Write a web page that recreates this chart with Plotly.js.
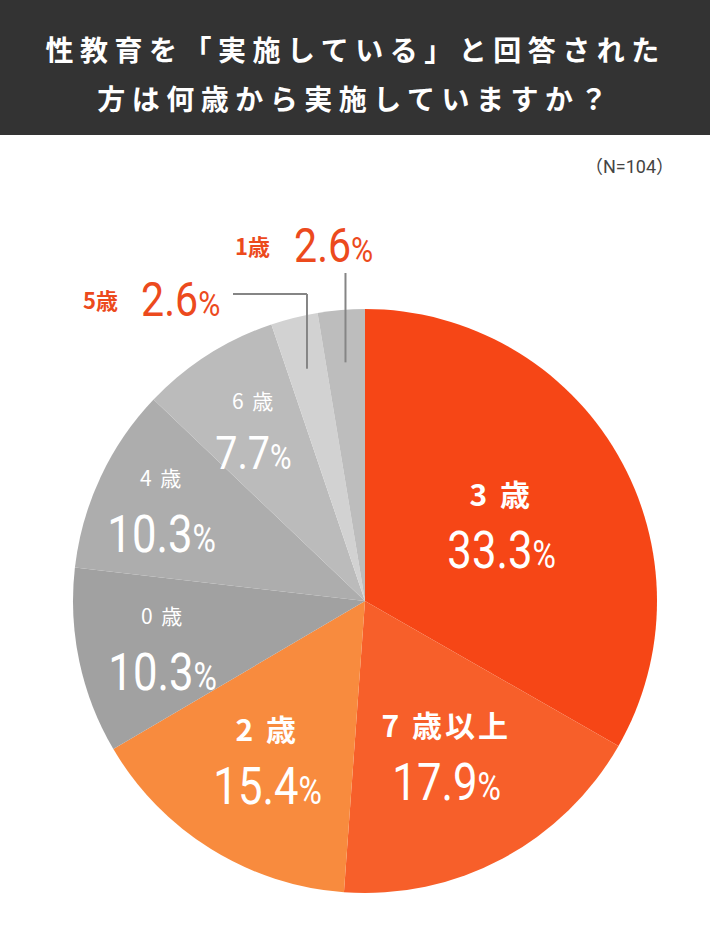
<!DOCTYPE html>
<html>
<head>
<meta charset="utf-8">
<script src="https://cdn.plot.ly/plotly-3.0.1.min.js"></script>
<style>
  html, body { margin: 0; padding: 0; background: #fff; }
  #pie { width: 710px; height: 939px; }
</style>
</head>
<body>
<div id="pie"></div>
<script>
// Chart data
var ages = ['3 歳', '7 歳以上', '2 歳', '0 歳', '4 歳', '6 歳', '5歳', '1歳'];
var shares = [33.3, 17.9, 15.4, 10.3, 10.3, 7.7, 2.6, 2.6];
var sampleNote = '（N=104）';
var titleLines = ['性教育を「実施している」と回答された', '方は何歳から実施していますか？'];

// Styles
var sliceColors = ['#F64616', '#F75F2A', '#F88B3E', '#A1A1A1', '#ADADAD', '#BBBBBB', '#D2D2D2', '#BDBDBD'];
var labelRadius = [0.54, 0.59, 0.63, 0.71, 0.77, 0.71];   // inside labels, fraction of radius
var catSize = [30, 30, 30, 21, 21, 21];
var pctSize = [52, 52, 52, 52, 52, 47];
var calloutPct = 49;
var accent = '#EC4A1D';
var pctFont = 'Roboto, Liberation Sans, sans-serif';
var jpFont = 'Noto Sans CJK JP, sans-serif';
var squeeze = 0.84;   // the original uses a condensed face for the numbers

var W = 710, H = 939;
var cx = 365, cy = 601, R = 292;
function px(x) { return x / W; }
function py(y) { return 1 - y / H; }

// mid angle of each slice, clockwise from 12 o'clock
var total = shares.reduce(function (a, b) { return a + b; }, 0);
var mids = [];
var run = 0;
shares.forEach(function (v) {
  mids.push((run + v / 2) / total * 2 * Math.PI);
  run += v;
});
function polar(i, f) {
  return [cx + f * R * Math.sin(mids[i]), cy - f * R * Math.cos(mids[i])];
}
function pctHtml(v, size) {
  return v.toFixed(1) + '<span style="font-size:' + Math.round(size * 0.74) + 'px">%</span>';
}

var annotations = [];
var shapes = [];
var narrowText = [];   // [annotation index, transform origin]
var spaced = [[0, 6.5], [1, 6.5]];   // [annotation index, letter spacing px]

// header band + title
shapes.push({
  type: 'rect', xref: 'paper', yref: 'paper', x0: 0, x1: 1, y0: py(135), y1: 1,
  fillcolor: '#333333', line: {width: 0}, layer: 'below'
});
titleLines.forEach(function (t, k) {
  annotations.push({
    text: t, xref: 'paper', yref: 'paper', x: px(355), y: py(49 + k * 49),
    xanchor: 'center', yanchor: 'middle', showarrow: false,
    font: {family: jpFont, size: 28, color: '#ffffff', weight: 'bold'}
  });
});
annotations.push({
  text: sampleNote, xref: 'paper', yref: 'paper', x: px(629), y: py(166),
  xanchor: 'center', yanchor: 'middle', showarrow: false,
  font: {family: 'Roboto, Noto Sans CJK JP, sans-serif', size: 18, color: '#444444'}
});

// labels inside the big slices
for (var i = 0; i < 6; i++) {
  var p = polar(i, labelRadius[i]);
  var gap = pctSize[i] > 50 ? 29 : 26;
  spaced.push([annotations.length, catSize[i] > 24 ? 3 : 2]);
  annotations.push({
    text: ages[i], xref: 'paper', yref: 'paper', x: px(p[0]), y: py(p[1] - gap),
    xanchor: 'center', yanchor: 'middle', showarrow: false,
    font: {family: jpFont, size: catSize[i], color: '#ffffff', weight: catSize[i] > 24 ? 'bold' : 'normal'}
  });
  narrowText.push([annotations.length, 'center']);
  annotations.push({
    text: pctHtml(shares[i], pctSize[i]), xref: 'paper', yref: 'paper', x: px(p[0]), y: py(p[1] + gap),
    xanchor: 'center', yanchor: 'middle', showarrow: false,
    font: {family: pctFont, size: pctSize[i], color: '#ffffff'}
  });
}

// callouts for the two small slices
var callouts = [
  {idx: 6, elbowY: 294, endX: 233},
  {idx: 7, elbowY: 273, endX: null}
];
callouts.forEach(function (c) {
  var a = polar(c.idx, 0.82);
  var lineStyle = {color: '#858585', width: 2};
  shapes.push({type: 'line', xref: 'paper', yref: 'paper',
    x0: px(a[0]), y0: py(a[1]), x1: px(a[0]), y1: py(c.elbowY), line: lineStyle});
  var pctX, pctAnchor, catX, ty;
  if (c.endX !== null) {
    shapes.push({type: 'line', xref: 'paper', yref: 'paper',
      x0: px(a[0]), y0: py(c.elbowY), x1: px(c.endX), y1: py(c.elbowY), line: lineStyle});
    pctX = c.endX - 11; pctAnchor = 'right'; ty = c.elbowY + 5;
    catX = pctX - 102;
  } else {
    pctX = a[0] - 53; pctAnchor = 'left'; ty = c.elbowY - 28;
    catX = pctX - 20;
  }
  narrowText.push([annotations.length, pctAnchor]);
  annotations.push({
    text: pctHtml(shares[c.idx], calloutPct), xref: 'paper', yref: 'paper', x: px(pctX), y: py(ty),
    xanchor: pctAnchor, yanchor: 'middle', showarrow: false,
    font: {family: pctFont, size: calloutPct, color: accent}
  });
  annotations.push({
    text: ages[c.idx], xref: 'paper', yref: 'paper', x: px(catX), y: py(ty),
    xanchor: 'right', yanchor: 'middle', showarrow: false,
    font: {family: jpFont, size: 22, color: accent, weight: 'bold'}
  });
});

var trace = {
  type: 'pie',
  labels: ages,
  values: shares,
  sort: false,
  direction: 'clockwise',
  rotation: 0,
  textinfo: 'none',
  hoverinfo: 'label+percent',
  marker: {colors: sliceColors, line: {width: 0}},
  domain: {x: [px(cx - R), px(cx + R)], y: [py(cy + R), py(cy - R)]},
  showlegend: false
};

var layout = {
  width: W, height: H,
  margin: {l: 0, r: 0, t: 0, b: 0},
  paper_bgcolor: '#ffffff',
  showlegend: false,
  shapes: shapes,
  annotations: annotations
};

Plotly.newPlot('pie', [trace], layout, {displayModeBar: false, staticPlot: true}).then(function () {
  function textOf(k) {
    return document.querySelector('.annotation[data-index="' + k + '"] text');
  }
  // letter spacing like the original artwork
  spaced.forEach(function (s) {
    var t = textOf(s[0]);
    if (t) t.style.letterSpacing = s[1] + 'px';
  });
  // condense the percentage figures
  narrowText.forEach(function (n) {
    var t = textOf(n[0]);
    if (!t) return;
    t.style.transformBox = 'fill-box';
    t.style.transformOrigin = n[1] + ' center';
    t.style.transform = 'scaleX(' + squeeze + ')';
  });
});
</script>
</body>
</html>
